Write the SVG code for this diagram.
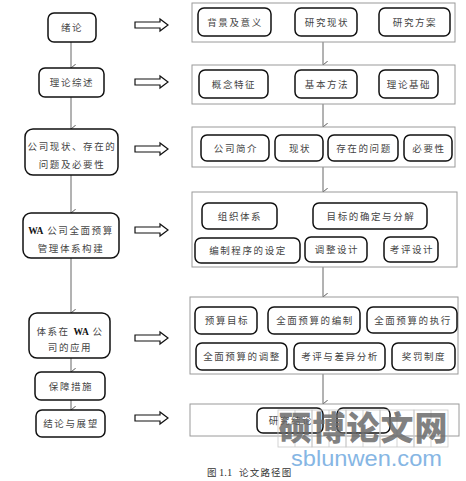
<svg xmlns="http://www.w3.org/2000/svg" width="466" height="481" viewBox="0 0 466 481">
<defs>
<style>
.bg{fill:#fff}
.node{fill:#fff;stroke:#111;stroke-width:1.5}
.panel{fill:#fff;stroke:#9a9a9a;stroke-width:1}
.t{font-family:"Noto Sans CJK SC","Liberation Serif",serif;font-size:9.5px;fill:#444;letter-spacing:1.6px;text-anchor:middle}
.b{font-family:"Liberation Serif",serif;font-weight:bold;fill:#111;letter-spacing:0}
.conn{stroke:#666;stroke-width:1;fill:none}
.hollow{fill:#fff;stroke:#111;stroke-width:1.2}
.wm{font-family:"Noto Sans CJK SC",sans-serif;font-weight:900;font-size:33px;fill:#6a6a6a;fill-opacity:0.85;text-anchor:middle}
.grid{fill:none;stroke:#c8c8c8;stroke-width:0.8}
</style>
<marker id="v" viewBox="0 0 10 10" refX="5" refY="9" markerWidth="8" markerHeight="8" markerUnits="userSpaceOnUse" orient="auto-start-reverse">
<polyline points="0,3 5,9 10,3" fill="none" stroke="#555" stroke-width="1.2"/>
</marker>
</defs>
<rect class="bg" x="0" y="0" width="466" height="481"/>

<g id="connectors">
<line class="conn" x1="71" y1="42" x2="71" y2="68" marker-end="url(#v)"/>
<line class="conn" x1="71" y1="97" x2="71" y2="129" marker-end="url(#v)"/>
<line class="conn" x1="71" y1="175" x2="71" y2="213" marker-end="url(#v)"/>
<line class="conn" x1="71" y1="258" x2="71" y2="313" marker-end="url(#v)"/>
<line class="conn" x1="71" y1="358" x2="71" y2="372" marker-end="url(#v)"/>
<line class="conn" x1="71" y1="400" x2="71" y2="410" marker-end="url(#v)"/>
<line class="conn" x1="323" y1="42" x2="323" y2="65" marker-end="url(#v)"/>
<line class="conn" x1="323" y1="104" x2="323" y2="127" marker-end="url(#v)"/>
<line class="conn" x1="323" y1="167" x2="323" y2="192" marker-end="url(#v)"/>
<line class="conn" x1="323" y1="267" x2="323" y2="297" marker-end="url(#v)"/>
<line class="conn" x1="323" y1="374" x2="323" y2="404" marker-end="url(#v)"/>
<path class="hollow" d="M135,22 H160 V19 L168,25 L160,31 V28 H135 Z"/>
<path class="hollow" d="M135,79 H160 V76 L168,82 L160,88 V85 H135 Z"/>
<path class="hollow" d="M135,146 H160 V143 L168,149 L160,155 V152 H135 Z"/>
<path class="hollow" d="M135,227 H160 V224 L168,230 L160,236 V233 H135 Z"/>
<path class="hollow" d="M135,335 H160 V332 L168,338 L160,344 V341 H135 Z"/>
<path class="hollow" d="M135,415 H160 V412 L168,418 L160,424 V421 H135 Z"/>
</g>

<g id="n1"><rect class="node" x="48" y="13" width="48" height="29" rx="6"/><text class="t" x="72" y="31">绪论</text></g>
<g id="n2"><rect class="node" x="39" y="68" width="65" height="29" rx="6"/><text class="t" x="72" y="86">理论综述</text></g>
<g id="n3"><rect class="node" x="25" y="129" width="93" height="46" rx="8"/><text class="t" x="72" y="149.5">公司现状、存在的</text><text class="t" x="72" y="167.5">问题及必要性</text></g>
<g id="n4"><rect class="node" x="23" y="213" width="96" height="45" rx="8"/><text class="t" x="71" y="233.5"><tspan class="b">WA</tspan> 公司全面预算</text><text class="t" x="71" y="251.5">管理体系构建</text></g>
<g id="n5"><rect class="node" x="29" y="313" width="81" height="45" rx="8"/><text class="t" x="70" y="334.5">体系在 <tspan class="b">WA</tspan> 公</text><text class="t" x="70" y="350.5">司的应用</text></g>
<g id="n6"><rect class="node" x="35" y="372" width="70" height="28" rx="6"/><text class="t" x="71" y="389.5">保障措施</text></g>
<g id="n7"><rect class="node" x="36" y="410" width="69" height="27" rx="6"/><text class="t" x="71" y="427">结论与展望</text></g>

<g id="p1">
<rect class="panel" x="192" y="3" width="263" height="39"/>
<rect class="node" x="198" y="8" width="73" height="28" rx="6"/><text class="t" x="235" y="25.5">背景及意义</text>
<rect class="node" x="295" y="8" width="62" height="28" rx="6"/><text class="t" x="327" y="25.5">研究现状</text>
<rect class="node" x="379" y="8" width="71" height="28" rx="6"/><text class="t" x="415" y="25.5">研究方案</text>
</g>
<g id="p2">
<rect class="panel" x="192" y="65" width="263" height="39"/>
<rect class="node" x="199" y="70" width="69" height="28" rx="6"/><text class="t" x="234" y="87.5">概念特征</text>
<rect class="node" x="295" y="70" width="62" height="28" rx="6"/><text class="t" x="327" y="87.5">基本方法</text>
<rect class="node" x="379" y="70" width="59" height="28" rx="6"/><text class="t" x="409" y="87.5">理论基础</text>
</g>
<g id="p3">
<rect class="panel" x="192" y="127" width="263" height="40"/>
<rect class="node" x="201" y="135" width="68" height="26" rx="6"/><text class="t" x="236" y="151.5">公司简介</text>
<rect class="node" x="275" y="135" width="48" height="26" rx="6"/><text class="t" x="300" y="151.5">现状</text>
<rect class="node" x="328" y="135" width="70" height="26" rx="6"/><text class="t" x="364" y="151.5">存在的问题</text>
<rect class="node" x="404" y="135" width="48" height="26" rx="6"/><text class="t" x="429" y="151.5">必要性</text>
</g>
<g id="p4">
<rect class="panel" x="192" y="192" width="265" height="75"/>
<rect class="node" x="202" y="203" width="75" height="26" rx="6"/><text class="t" x="240" y="219.5">组织体系</text>
<rect class="node" x="313" y="203" width="114" height="26" rx="6"/><text class="t" x="371" y="219.5">目标的确定与分解</text>
<rect class="node" x="195" y="238" width="105" height="25" rx="6"/><text class="t" x="248" y="254">编制程序的设定</text>
<rect class="node" x="305" y="237" width="62" height="25" rx="6"/><text class="t" x="337" y="253">调整设计</text>
<rect class="node" x="384" y="237" width="54" height="25" rx="6"/><text class="t" x="412" y="253">考评设计</text>
</g>
<g id="p5">
<rect class="panel" x="190" y="297" width="268" height="77"/>
<rect class="node" x="195" y="307" width="62" height="27" rx="6"/><text class="t" x="227" y="324">预算目标</text>
<rect class="node" x="268" y="307" width="92" height="27" rx="6"/><text class="t" x="315" y="324">全面预算的编制</text>
<rect class="node" x="367" y="307" width="90" height="26" rx="6"/><text class="t" x="413" y="323.5">全面预算的执行</text>
<rect class="node" x="196" y="343" width="91" height="27" rx="6"/><text class="t" x="242" y="360">全面预算的调整</text>
<rect class="node" x="294" y="343" width="91" height="27" rx="6"/><text class="t" x="340" y="360">考评与差异分析</text>
<rect class="node" x="392" y="343" width="63" height="27" rx="6"/><text class="t" x="424" y="360">奖罚制度</text>
</g>
<g id="p6">
<rect class="panel" x="190" y="404" width="269" height="32"/>
<rect class="node" x="257" y="408" width="66" height="25" rx="6"/><text class="t" x="291" y="424">研究结论</text>
<rect class="node" x="337" y="408" width="53" height="25" rx="6"/>
</g>

<g id="caption">
<text x="207" y="476" style="font-family:'Noto Sans CJK SC','Liberation Serif',serif;font-size:9.5px;fill:#333">图</text>
<text x="219" y="476" style="font-family:'Liberation Serif',serif;font-size:10.5px;fill:#333">1.1</text>
<text x="239" y="476" style="font-family:'Noto Sans CJK SC','Liberation Serif',serif;font-size:9.5px;fill:#333;letter-spacing:1.2px">论文路径图</text>
</g>

<g id="watermark">
<rect class="grid" x="278" y="410" width="34" height="37"/>
<rect class="grid" x="312" y="410" width="34" height="37"/>
<rect class="grid" x="346" y="410" width="34" height="37"/>
<rect class="grid" x="380" y="410" width="34" height="37"/>
<rect class="grid" x="414" y="410" width="34" height="37"/>
<line class="grid" x1="295" y1="410" x2="295" y2="447"/>
<line class="grid" x1="329" y1="410" x2="329" y2="447"/>
<line class="grid" x1="363" y1="410" x2="363" y2="447"/>
<line class="grid" x1="397" y1="410" x2="397" y2="447"/>
<line class="grid" x1="431" y1="410" x2="431" y2="447"/>
<text class="wm" x="295" y="440">硕</text>
<text class="wm" x="329" y="440">博</text>
<text class="wm" x="363" y="440">论</text>
<text class="wm" x="397" y="440">文</text>
<text class="wm" x="431" y="440">网</text>
<text x="291" y="466" textLength="151" lengthAdjust="spacingAndGlyphs" style="font-family:'Liberation Sans',sans-serif;font-size:22px;fill:#86b6e4">sblunwen.com</text>
</g>
</svg>
